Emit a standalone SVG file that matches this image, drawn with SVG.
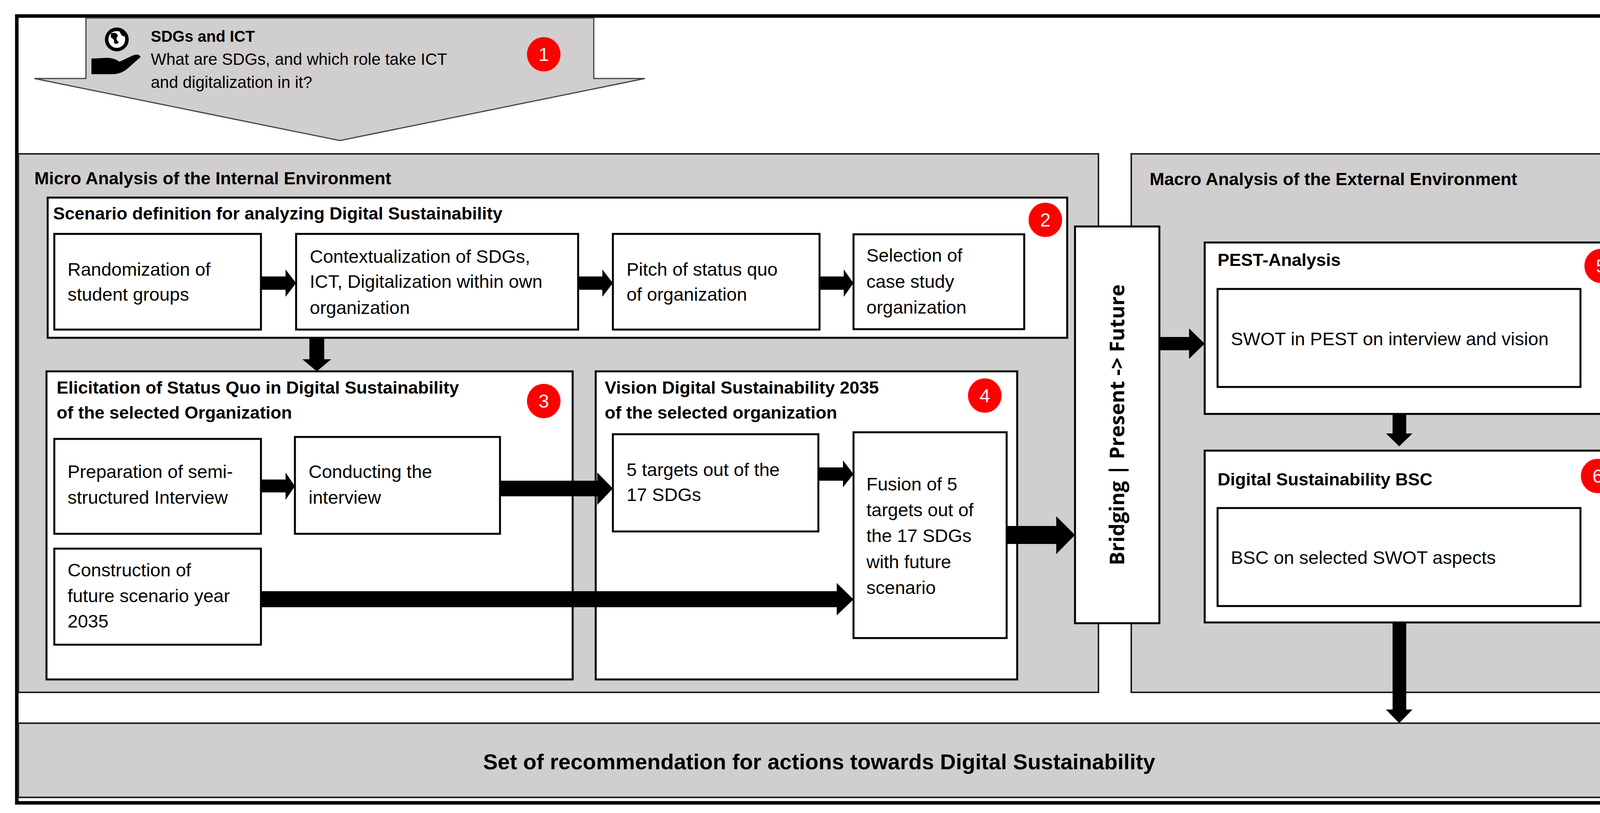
<svg xmlns="http://www.w3.org/2000/svg" width="4406" height="2082" viewBox="0 0 4406 2082">
<style>
.t{font-family:"Liberation Sans",Arial,sans-serif;font-size:47px;fill:#000}
.b{font-family:"Liberation Sans",Arial,sans-serif;font-size:45px;font-weight:bold;fill:#000}
.box{fill:#fff;stroke:#000;stroke-width:5}
.pan{fill:#d0cece;stroke:#222;stroke-width:4}
.bd{fill:#ff0000}
.bn{font-family:"Liberation Sans",Arial,sans-serif;font-size:48px;fill:#fff;text-anchor:middle}
.ar{fill:#000}
</style>
<rect x="0" y="0" width="4406" height="2082" fill="#fff"/>
<rect x="43" y="41" width="4313" height="2015" fill="#fff" stroke="#000" stroke-width="9"/>
<g id="n1">
<polygon points="220,46 1520,46 1520,201 1651,201 870,360 88,201 220,201" fill="#d0cece" stroke="#444" stroke-width="3"/>
<circle cx="299" cy="101" r="26" fill="#fff" stroke="#000" stroke-width="9"/>
<path d="M284,86 q14,-6 18,6 q-8,8 2,16 q-4,8 -12,2 q2,-10 -8,-14 z M306,80 q12,4 12,14 q-8,-2 -12,-14 z" fill="#000"/>
<path d="M234,150 l40,-2 q18,0 32,10 l34,-16 q16,-6 20,4 l-34,30 q-16,14 -40,14 l-52,0 z" fill="#000"/>
<text class="b" x="386" y="107" style="font-size:40px">SDGs and ICT</text>
<text class="t" x="386" y="166" style="font-size:42px">What are SDGs, and which role take ICT</text>
<text class="t" x="386" y="225" style="font-size:42px">and digitalization in it?</text>
<ellipse class="bd" cx="1392" cy="139" rx="43" ry="44"/><text class="bn" x="1392" y="156">1</text>
</g>
<g id="micro">
<rect class="pan" x="47" y="394" width="2765" height="1379"/>
<text class="b" x="88" y="472">Micro Analysis of the Internal Environment</text>
</g>
<g id="macro">
<rect class="pan" x="2896" y="394" width="1457" height="1379"/>
<text class="b" x="2943" y="474">Macro Analysis of the External Environment</text>
</g>
<g id="n2">
<rect class="box" x="122" y="506" width="2610" height="359"/>
<text class="b" x="136" y="562">Scenario definition for analyzing Digital Sustainability</text>
<ellipse class="bd" cx="2676" cy="563" rx="43" ry="44"/><text class="bn" x="2676" y="580">2</text>
</g>
<g id="a1"><rect class="box" x="139" y="599" width="529" height="245"/>
<text class="t" x="173" y="706">Randomization of</text><text class="t" x="173" y="770">student groups</text></g>
<g id="a2"><rect class="box" x="758" y="599" width="722" height="245"/>
<text class="t" x="793" y="673">Contextualization of SDGs,</text><text class="t" x="793" y="737">ICT, Digitalization within own</text><text class="t" x="793" y="804">organization</text></g>
<g id="a3"><rect class="box" x="1569" y="599" width="529" height="245"/>
<text class="t" x="1604" y="706">Pitch of status quo</text><text class="t" x="1604" y="770">of organization</text></g>
<g id="a4"><rect class="box" x="2185" y="600" width="437" height="243"/>
<text class="t" x="2218" y="670">Selection of</text><text class="t" x="2218" y="737">case study</text><text class="t" x="2218" y="803">organization</text></g>
<g id="n3">
<rect class="box" x="119" y="951" width="1347" height="789"/>
<text class="b" x="145" y="1008">Elicitation of Status Quo in Digital Sustainability</text>
<text class="b" x="145" y="1072">of the selected Organization</text>
<ellipse class="bd" cx="1392" cy="1027" rx="43" ry="44"/><text class="bn" x="1392" y="1044">3</text>
</g>
<g id="n4">
<rect class="box" x="1525" y="951" width="1079" height="789"/>
<text class="b" x="1548" y="1008">Vision Digital Sustainability 2035</text>
<text class="b" x="1548" y="1072">of the selected organization</text>
<ellipse class="bd" cx="2521" cy="1013" rx="43" ry="44"/><text class="bn" x="2521" y="1030">4</text>
</g>
<g id="b1"><rect class="box" x="139" y="1124" width="529" height="243"/>
<text class="t" x="173" y="1224">Preparation of semi-</text><text class="t" x="173" y="1290">structured Interview</text></g>
<g id="b2"><rect class="box" x="755" y="1119" width="525" height="248"/>
<text class="t" x="790" y="1224">Conducting the</text><text class="t" x="790" y="1290">interview</text></g>
<g id="b3"><rect class="box" x="139" y="1405" width="529" height="246"/>
<text class="t" x="173" y="1476">Construction of</text><text class="t" x="173" y="1542">future scenario year</text><text class="t" x="173" y="1607">2035</text></g>
<g id="c1"><rect class="box" x="1569" y="1112" width="526" height="249"/>
<text class="t" x="1604" y="1219">5 targets out of the</text><text class="t" x="1604" y="1283">17 SDGs</text></g>
<g id="c2"><rect class="box" x="2185" y="1107" width="392" height="527"/>
<text class="t" x="2218" y="1256">Fusion of 5</text><text class="t" x="2218" y="1322">targets out of</text><text class="t" x="2218" y="1388">the 17 SDGs</text><text class="t" x="2218" y="1455">with future</text><text class="t" x="2218" y="1521">scenario</text></g>
<g id="bridge"><rect class="box" x="2752" y="580" width="216" height="1016"/>
<text x="2878" y="1088" transform="rotate(-90 2878 1088)" text-anchor="middle" style="font-family:'Open Sans',sans-serif;font-size:52px;font-weight:bold">Bridging | Present -&gt; Future</text></g>
<g id="n5"><rect class="box" x="3084" y="621" width="1079" height="439"/>
<text class="b" x="3117" y="681">PEST-Analysis</text>
<ellipse class="bd" cx="4099" cy="681" rx="43" ry="44"/><text class="bn" x="4099" y="698">5</text>
<rect class="box" x="3117" y="740" width="929" height="251"/>
<text class="t" x="3151" y="884">SWOT in PEST on interview and vision</text></g>
<g id="n6"><rect class="box" x="3084" y="1154" width="1079" height="440"/>
<text class="b" x="3117" y="1243">Digital Sustainability BSC</text>
<ellipse class="bd" cx="4090" cy="1219" rx="43" ry="44"/><text class="bn" x="4090" y="1236">6</text>
<rect class="box" x="3117" y="1301" width="929" height="251"/>
<text class="t" x="3151" y="1444">BSC on selected SWOT aspects</text></g>
<g id="n7"><rect class="pan" x="47" y="1852" width="4306" height="190"/>
<text class="b" x="2097" y="1970" text-anchor="middle" style="font-size:56px">Set of recommendation for actions towards Digital Sustainability</text>
<ellipse class="bd" cx="4230" cy="1941" rx="43" ry="44"/><text class="bn" x="4230" y="1958">7</text></g>
<g id="connectors" class="ar">
<polygon points="668,708 731,708 731,690 758,725 731,760 731,742 668,742"/>
<polygon points="1480,708 1542,708 1542,690 1569,725 1542,760 1542,742 1480,742"/>
<polygon points="2098,708 2160,708 2160,690 2185,725 2160,760 2160,742 2098,742"/>
<polygon points="792,865 830,865 830,920 848,920 811,951 774,920 792,920"/>
<polygon points="668,1228 731,1228 731,1210 755,1245 731,1280 731,1261 668,1261"/>
<polygon points="1280,1231 1529,1231 1529,1210 1569,1251 1529,1293 1529,1271 1280,1271"/>
<polygon points="2095,1197 2158,1197 2158,1179 2185,1214 2158,1248 2158,1231 2095,1231"/>
<polygon points="668,1514 2142,1514 2142,1493 2185,1535 2142,1576 2142,1555 668,1555"/>
<polygon points="2577,1347 2704,1347 2704,1322 2752,1370 2704,1419 2704,1393 2577,1393"/>
<polygon points="2968,863 3044,863 3044,841 3084,880 3044,919 3044,897 2968,897"/>
<polygon points="3565,1060 3600,1060 3600,1110 3616,1110 3582,1143 3548,1110 3565,1110"/>
<polygon points="3565,1594 3600,1594 3600,1817 3616,1817 3582,1852 3548,1817 3565,1817"/>
</g>
</svg>
